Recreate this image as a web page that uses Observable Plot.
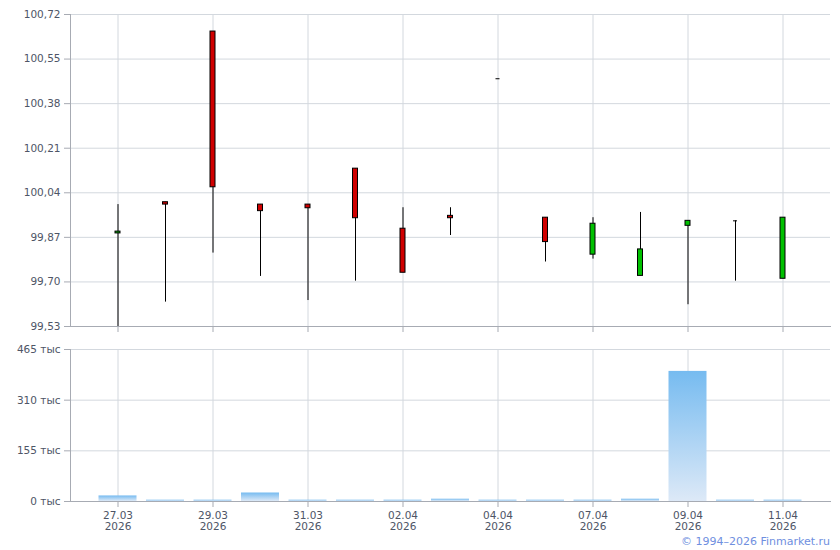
<!DOCTYPE html>
<html>
<head>
<meta charset="utf-8">
<script src="https://cdn.jsdelivr.net/npm/d3@7"></script>
<script src="https://cdn.jsdelivr.net/npm/@observablehq/plot@0.6"></script>
<style>
  html, body { margin: 0; padding: 0; background: #fff; }
  #wrap { position: relative; width: 840px; height: 550px; font-family: "DejaVu Sans", Verdana, sans-serif; }
  #top { position: absolute; left: 0; top: 0; }
  #bot { position: absolute; left: 0; top: 340px; }
  #copy { position: absolute; right: 10px; top: 535px; font-size: 11px; color: #6f8fe0; font-family: "DejaVu Sans", Verdana, sans-serif; }
</style>
</head>
<body>
<div id="wrap">
  <div id="top"></div>
  <div id="bot"></div>
  <div id="copy">© 1994–2026 Finmarket.ru</div>
</div>
<script>
const dates  = ["27.03","28.03","29.03","30.03","31.03","01.04","02.04","03.04","04.04","06.04","07.04","08.04","09.04","10.04","11.04"];
const year   = "2026";
const open   = [99.885, 100.004, 100.655, 99.995, 99.995, 100.132, 99.903, 99.952, 100.475, 99.945, 99.804, 99.723, 99.914, 99.933, 99.712];
const high   = [99.995, 100.004, 100.655, 99.995, 99.995, 100.132, 99.983, 99.983, 100.475, 99.945, 99.945, 99.965, 99.933, 99.933, 99.945];
const low    = [99.530, 99.623, 99.810, 99.721, 99.629, 99.703, 99.735, 99.877, 100.475, 99.776, 99.787, 99.723, 99.613, 99.703, 99.712];
const close  = [99.892, 99.995, 100.061, 99.970, 99.981, 99.943, 99.735, 99.943, 100.475, 99.852, 99.922, 99.824, 99.933, 99.933, 99.945];
const volume = [17, 4, 4, 26, 4, 4, 4, 7, 4, 4, 4, 7, 398, 4, 4]; // thousands
const priceTicks  = [99.53, 99.70, 99.87, 100.04, 100.21, 100.38, 100.55, 100.72];
const volumeTicks = [0, 155, 310, 465];
const labelDates  = dates.filter((d, i) => i % 2 === 0);

const rows = dates.map((d, i) => ({date: d, open: open[i], high: high[i], low: low[i], close: close[i], volume: volume[i]}));
const bodies = rows.filter(r => r.open !== r.close);
const dojis  = rows.filter(r => r.open === r.close);

const gridColor = "#d3d8de";
const axisColor = "#a7abb3";
const textColor = "#4e5566";
const xScale = {type: "band", domain: dates, paddingInner: 0.2, paddingOuter: 0.6, align: 0.5, round: false};
const fmtPrice = d => d.toFixed(2).replace(".", ",");

const priceChart = Plot.plot({
  width: 840, height: 340,
  marginTop: 14, marginBottom: 14, marginLeft: 70, marginRight: 10,
  style: {fontFamily: "DejaVu Sans, Verdana, sans-serif", fontSize: "10.5px", color: textColor, background: "white"},
  x: {...xScale},
  y: {domain: [99.53, 100.72]},
  color: {domain: ["up", "down"], range: ["#00c000", "#d00000"]},
  marks: [
    Plot.gridY(priceTicks, {stroke: gridColor, strokeOpacity: 1}),
    Plot.gridX(labelDates, {stroke: gridColor, strokeOpacity: 1}),
    Plot.axisY(priceTicks, {tickFormat: fmtPrice, tickSize: 6, tickPadding: 4, stroke: axisColor, fill: textColor, label: null}),
    Plot.axisX(labelDates, {tickFormat: () => "", tickSize: 6, stroke: axisColor, label: null}),
    Plot.frame({anchor: "left", stroke: axisColor}),
    Plot.frame({anchor: "bottom", stroke: axisColor}),
    Plot.ruleX(rows, {x: "date", y1: "low", y2: "high", stroke: "black", strokeWidth: 1}),
    Plot.barY(bodies, {x: "date", y1: "open", y2: "close", fill: d => d.close > d.open ? "up" : "down",
      stroke: "black", strokeWidth: 1, insetLeft: 16.5, insetRight: 16.5}),
    Plot.tickY(dojis, {x: "date", y: "close", stroke: "black", strokeWidth: 1, insetLeft: 17, insetRight: 17})
  ]
});
document.getElementById("top").appendChild(priceChart);

const volChart = Plot.plot({
  width: 840, height: 210,
  marginTop: 9, marginBottom: 49, marginLeft: 70, marginRight: 10,
  style: {fontFamily: "DejaVu Sans, Verdana, sans-serif", fontSize: "10.5px", color: textColor, background: "white"},
  x: {...xScale},
  y: {domain: [0, 465]},
  marks: [
    Plot.gridY(volumeTicks, {stroke: gridColor, strokeOpacity: 1}),
    Plot.gridX(labelDates, {stroke: gridColor, strokeOpacity: 1}),
    Plot.barY(rows, {x: "date", y: "volume", fill: "url(#volgrad)"}),
    Plot.axisY(volumeTicks, {tickFormat: d => d + " тыс", tickSize: 6, tickPadding: 4, stroke: axisColor, fill: textColor, label: null}),
    Plot.axisX(labelDates, {tickFormat: d => d + "\n" + year, tickSize: 6, tickPadding: 3, lineHeight: 1.1, stroke: axisColor, fill: textColor, label: null}),
    Plot.frame({anchor: "left", stroke: axisColor}),
    Plot.frame({anchor: "bottom", stroke: axisColor})
  ]
});
const defs = d3.select(volChart).insert("defs", ":first-child");
const grad = defs.append("linearGradient").attr("id", "volgrad").attr("x1", 0).attr("y1", 0).attr("x2", 0).attr("y2", 1);
grad.append("stop").attr("offset", "0%").attr("stop-color", "#76bbf0");
grad.append("stop").attr("offset", "100%").attr("stop-color", "#dde9f7");
document.getElementById("bot").appendChild(volChart);
</script>
</body>
</html>
